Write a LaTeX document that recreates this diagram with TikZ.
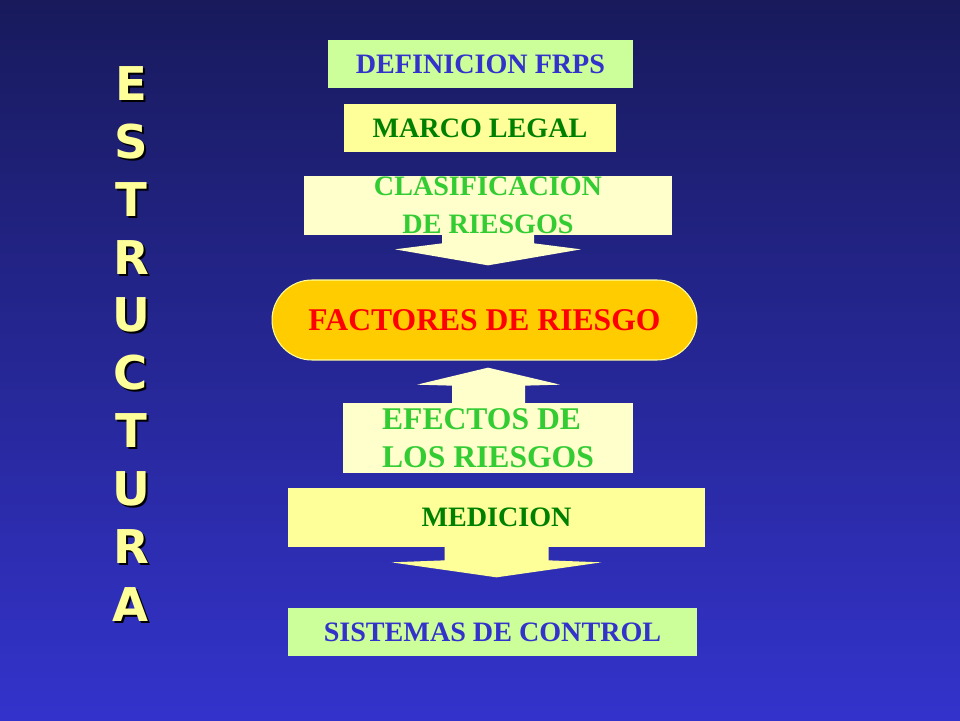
\documentclass[tikz,border=0pt]{standalone}
\usepackage{fontspec}
\setmainfont{Liberation Serif}
\newfontfamily\lettrefont{DejaVu Sans}
\definecolor{fondhaut}{HTML}{181A5C}
\definecolor{fondbas}{HTML}{3333CC}
\definecolor{vertclair}{HTML}{CCFF99}
\definecolor{jaune}{HTML}{FFFF99}
\definecolor{creme}{HTML}{FFFFCC}
\definecolor{or}{HTML}{FFCC00}
\definecolor{bleutexte}{HTML}{3333CC}
\definecolor{vertfonce}{HTML}{008000}
\definecolor{vertvif}{HTML}{33CC33}
\begin{document}
\begin{tikzpicture}[x=0.02cm,y=-0.02cm,
	caja/.style={rectangle,inner sep=0pt,align=center,font=\bfseries\fontsize{16}{21.5}\selectfont},
	grande/.style={font=\bfseries\fontsize{18}{21.5}\selectfont}]
\useasboundingbox (0,0) rectangle (960,720);
\shade[top color=fondhaut,bottom color=fondbas] (0,0) rectangle (960,720);
% letras verticales
\foreach \l [count=\i] in {E,S,T,R,U,C,T,U,R,A}{
	\node[text=black,font=\lettrefont\bfseries\fontsize{26.5}{30}\selectfont] at (133,85.5+57.9*\i-57.9) {\l};
	\node[text=jaune,font=\lettrefont\bfseries\fontsize{26.5}{30}\selectfont] (letra\i) at (131,83.5+57.9*\i-57.9) {\l};}
% cajas
\node[caja,fill=vertclair,text=bleutexte,minimum width=6.1cm,minimum height=0.96cm] (defi) at (480.5,64) {DEFINICION FRPS};
\node[caja,fill=jaune,text=vertfonce,minimum width=5.44cm,minimum height=0.96cm] (marco) at (480,128) {MARCO LEGAL};
\node[caja,fill=creme,text=vertvif,minimum width=7.36cm,minimum height=1.18cm] (clasif) at (488,205.5) {CLASIFICACION\\DE RIESGOS};
\node[caja,grande,fill=or,draw=jaune,line width=0.6pt,text=red,rounded corners=0.8cm,minimum width=8.5cm,minimum height=1.6cm] (factores) at (484.5,320) {FACTORES DE RIESGO};
\node[caja,grande,fill=creme,text=vertvif,align=left,minimum width=5.8cm,minimum height=1.4cm] (efectos) at (488,438) {EFECTOS DE\\LOS RIESGOS};
\node[caja,fill=jaune,text=vertfonce,minimum width=8.34cm,minimum height=1.18cm] (medicion) at (496.5,517.5) {MEDICION};
\node[caja,fill=vertclair,text=bleutexte,minimum width=8.18cm,minimum height=0.96cm] (sistemas) at (492.5,632) {SISTEMAS DE CONTROL};
% flechas
\begin{scope}[shift={(clasif.south)}]
	\fill[creme] (-46,-1) -- (-46,8) -- (-93,14) -- (0,30) -- (93,14) -- (46,8) -- (46,-1) -- cycle;
\end{scope}
\begin{scope}[shift={(efectos.north)}]
	\fill[creme] (-36,1) -- (-36,-17) -- (-71,-18) -- (0,-35) -- (72,-18) -- (37,-17) -- (37,1) -- cycle;
\end{scope}
\begin{scope}[shift={(medicion.south)}]
	\fill[jaune] (-52,-1) -- (-52,13) -- (-105,15) -- (0,30) -- (105,15) -- (52,13) -- (52,-1) -- cycle;
\end{scope}
\end{tikzpicture}
\end{document}
